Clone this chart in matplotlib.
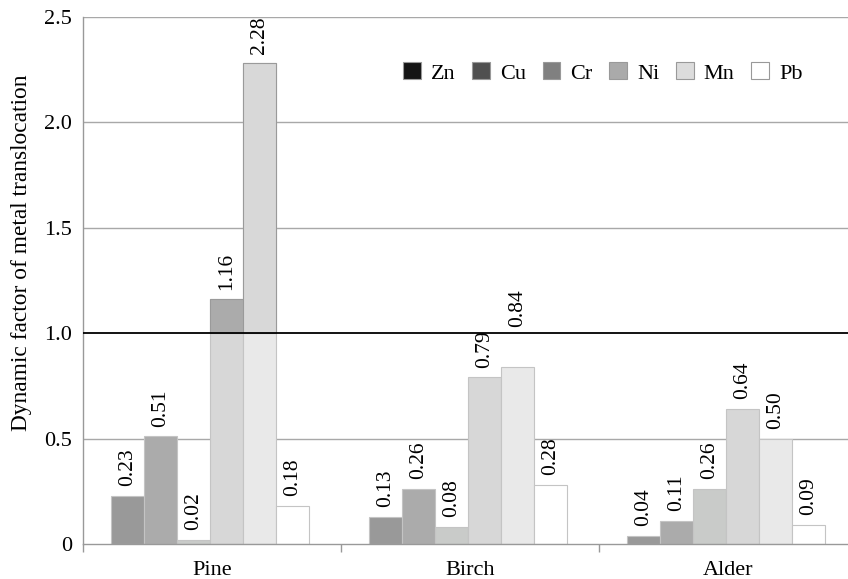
import numpy as np
import matplotlib
matplotlib.use("Agg")
import matplotlib.pyplot as plt
from matplotlib.patches import Patch

plt.rcParams['font.family'] = ['Liberation Serif', 'DejaVu Serif']

species = ["Pine", "Birch", "Alder"]
metals = ["Zn", "Cu", "Cr", "Ni", "Mn", "Pb"]
values = {
    "Zn": [0.23, 0.13, 0.04],
    "Cu": [0.51, 0.26, 0.11],
    "Cr": [0.02, 0.08, 0.26],
    "Ni": [1.16, 0.79, 0.64],
    "Mn": [2.28, 0.84, 0.50],
    "Pb": [0.18, 0.28, 0.09],
}
y_ticks = [0, 0.5, 1.0, 1.5, 2.0, 2.5]
y_tick_labels = ["0", "0.5", "1.0", "1.5", "2.0", "2.5"]

bar_colors = ["#999999", "#ababab", "#c9cbc9", "#d7d7d7", "#e9e9e9", "#ffffff"]
upper_colors = ["#7f7f7f", "#999999", "#b5b5b5", "#ababab", "#d8d8d8", "#ebebeb"]
legend_colors = ["#141414", "#505050", "#808080", "#aaaaaa", "#dcdcdc", "#ffffff"]
threshold = 1.0

# extra vertical shift (in points) for labels that would collide with the threshold line
label_shift = {("Mn", 1): 22}

fig = plt.figure(figsize=(8.48, 5.79), dpi=100)
ax = fig.add_axes([83 / 848, 1 - 544 / 579, 774 / 848, 527 / 579])

x = np.arange(len(species)) + 0.5
width = 0.128
n = len(metals)
for i, m in enumerate(metals):
    xs = x + (i - (n - 1) / 2) * width - 0.008
    vals = np.array(values[m])
    ax.bar(xs, vals, width, color=bar_colors[i], edgecolor="#c4c4c4",
           linewidth=0.8, zorder=2)
    above = vals > threshold
    if above.any():
        ax.bar(xs[above], vals[above] - threshold, width, bottom=threshold,
               color=upper_colors[i], edgecolor="#9a9a9a", linewidth=0.8, zorder=2)
    for j, (xx, v) in enumerate(zip(xs, vals)):
        off = 7 + label_shift.get((m, j), 0)
        ax.annotate(f"{v:.2f}", (xx, v), xytext=(0, off), textcoords="offset points",
                    rotation=90, ha="center", va="bottom", fontsize=15.5, zorder=4)

ax.set_ylim(0, 2.5)
ax.set_xlim(0, 3)
ax.set_yticks(y_ticks)
ax.set_yticklabels(y_tick_labels, fontsize=16)
ax.tick_params(axis="y", length=0, pad=8)
ax.set_xticks(x)
ax.set_xticklabels(species, fontsize=16)
ax.set_xticks([0, 1, 2, 3], minor=True)
ax.tick_params(axis="x", which="major", length=0, pad=12)
ax.tick_params(axis="x", which="minor", length=6, width=1, color="#999999")

for yv in y_ticks[1:]:
    ax.axhline(yv, color="#000000" if yv == threshold else "#a8a8a8",
               linewidth=1.3 if yv == threshold else 1.0, zorder=3 if yv == threshold else 1)

for s in ["top", "right"]:
    ax.spines[s].set_visible(False)
ax.spines["left"].set_color("#999999")
ax.spines["bottom"].set_color("#999999")
ax.spines["left"].set_linewidth(1.0)
ax.spines["bottom"].set_linewidth(1.0)

ax.set_ylabel("Dynamic factor of metal translocation", fontsize=16.8)
ax.yaxis.set_label_coords(-0.066, 0.552)

handles = [Patch(facecolor=c, edgecolor="#999999", linewidth=0.8) for c in legend_colors]
fig.legend(handles, metals, ncol=6, frameon=False, fontsize=16,
           loc="center left", bbox_to_anchor=(403 / 848, 1 - 73 / 579),
           handlelength=0.8, handleheight=0.8, handletextpad=0.45, columnspacing=0.75,
           borderpad=0, borderaxespad=0)

fig.savefig("out.png", dpi=100)
